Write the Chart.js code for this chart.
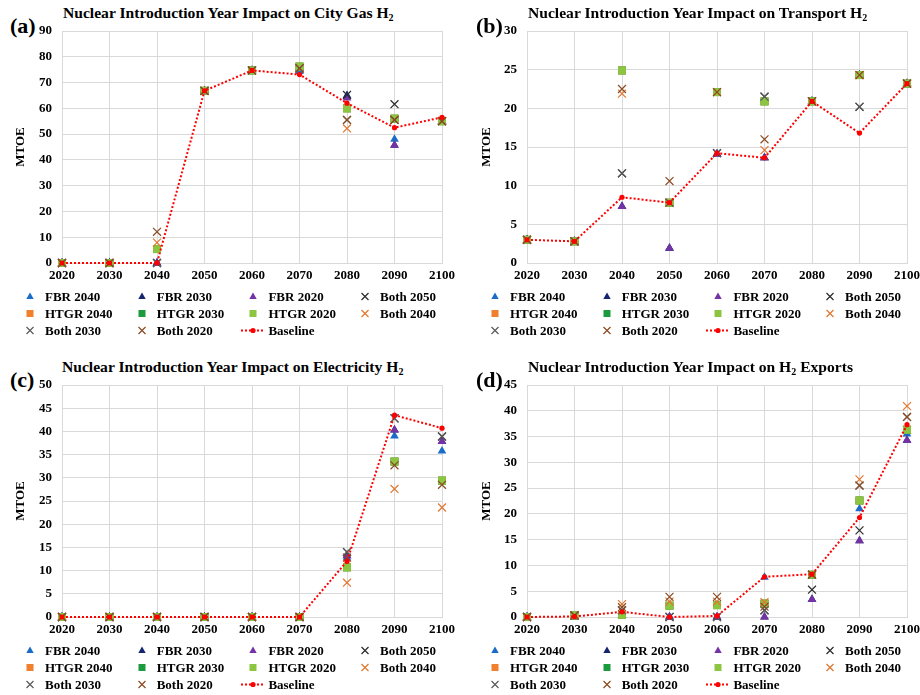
<!DOCTYPE html>
<html lang="en">
<head>
<meta charset="UTF-8">
<title>Nuclear Introduction Year Impact on H2</title>
<script src="https://cdn.jsdelivr.net/npm/chart.js"></script>
<style>
  body { margin: 0; background: #fff; font-family: "Liberation Serif", "Times New Roman", serif; color: #000; }
  .panel { position: absolute; width: 460px; height: 347px; }
  .panel canvas { position: absolute; left: 0; top: 20px; }
  .tag { position: absolute; top: 15px; font-weight: bold; font-size: 22px; line-height: 22px; }
  .title { position: absolute; top: 4px; font-weight: bold; font-size: 15.6px; line-height: 18px; white-space: nowrap; }
  .title sub { font-size: 10px; vertical-align: -3px; line-height: 0; }
  .legend { position: absolute; top: 288px; display: grid; grid-template-columns: repeat(4, 111.7px); grid-auto-rows: 17px; }
  .item { display: flex; align-items: center; font-weight: bold; font-size: 13px; white-space: nowrap; }
  .item svg { width: 20px; height: 17px; margin-right: 5px; overflow: visible; }
</style>
</head>
<body>
  <div class="panel" id="pa" style="left:0;top:0">
    <div class="tag" style="left:10px">(a)</div>
    <div class="title" style="left:63px">Nuclear Introduction Year Impact on City Gas H<sub>2</sub></div>
    <canvas id="chartA" width="460" height="270"></canvas>
    <div class="legend" id="legendA"></div>
  </div>
  <div class="panel" id="pb" style="left:460px;top:0">
    <div class="tag" style="left:16px">(b)</div>
    <div class="title" style="left:68px">Nuclear Introduction Year Impact on Transport H<sub>2</sub></div>
    <canvas id="chartB" width="460" height="270"></canvas>
    <div class="legend" id="legendB"></div>
  </div>
  <div class="panel" id="pc" style="left:0;top:354px">
    <div class="tag" style="left:10px">(c)</div>
    <div class="title" style="left:62px">Nuclear Introduction Year Impact on Electricity H<sub>2</sub></div>
    <canvas id="chartC" width="460" height="270"></canvas>
    <div class="legend" id="legendC"></div>
  </div>
  <div class="panel" id="pd" style="left:460px;top:354px">
    <div class="tag" style="left:16px">(d)</div>
    <div class="title" style="left:68px">Nuclear Introduction Year Impact on H<sub>2</sub> Exports</div>
    <canvas id="chartD" width="460" height="270"></canvas>
    <div class="legend" id="legendD"></div>
  </div>

<script>
const years = ["2020", "2030", "2040", "2050", "2060", "2070", "2080", "2090", "2100"];
const seriesNames = ["FBR 2040", "FBR 2030", "FBR 2020", "Both 2050", "HTGR 2040", "HTGR 2030",
                     "HTGR 2020", "Both 2040", "Both 2030", "Both 2020", "Baseline"];

// MTOE, one row per entry of seriesNames
const cityGas = [
  [0, 0, 0,    66.8, 74.7, 74.3, 64.8, 48.0, 55.0],  // FBR 2040
  [0, 0, 0,    66.8, 74.7, 75.5, 65.0, 45.7, 55.0],  // FBR 2030
  [0, 0, 0,    66.8, 74.7, 75.5, 64.0, 45.7, 55.0],  // FBR 2020
  [0, 0, 0,    66.8, 74.7, 75.5, 65.2, 61.6, 55.0],  // Both 2050
  [0, 0, 5.4,  66.8, 74.7, 76.2, 60.0, 56.0, 55.0],  // HTGR 2040
  [0, 0, 5.4,  66.8, 74.7, 76.2, 60.0, 56.0, 55.0],  // HTGR 2030
  [0, 0, 5.4,  66.8, 74.7, 76.2, 60.0, 56.0, 55.0],  // HTGR 2020
  [0, 0, 7.9,  66.8, 74.7, 75.5, 52.2, 55.5, 55.0],  // Both 2040
  [0, 0, 0,    66.8, 74.7, 75.5, 55.5, 55.5, 55.0],  // Both 2030
  [0, 0, 12.1, 66.8, 74.7, 75.5, 55.5, 55.5, 55.0],  // Both 2020
  [0, 0, 0,    66.8, 74.7, 73.1, 62.0, 52.5, 56.5]   // Baseline
];

const transport = [
  [3.0, 2.8, 7.3,  1.9,  14.1, 13.6, 20.9, 24.3, 23.2],
  [3.0, 2.8, 7.3,  1.9,  14.1, 13.6, 20.9, 24.3, 23.2],
  [3.0, 2.8, 7.3,  1.9,  14.1, 13.6, 20.9, 24.3, 23.2],
  [3.0, 2.8, 11.6, 7.8,  14.2, 21.5, 20.9, 20.2, 23.2],
  [3.0, 2.8, 24.9, 7.8,  22.1, 20.9, 20.9, 24.3, 23.2],
  [3.0, 2.8, 24.9, 7.8,  22.1, 20.9, 20.9, 24.3, 23.2],
  [3.0, 2.8, 24.9, 7.8,  22.1, 20.9, 20.9, 24.3, 23.2],
  [3.0, 2.8, 21.9, 7.8,  22.1, 14.6, 20.9, 24.3, 23.2],
  [3.0, 2.8, 11.6, 7.8,  14.2, 21.5, 20.9, 20.2, 23.2],
  [3.0, 2.8, 22.5, 10.6, 22.1, 16.0, 20.9, 24.3, 23.2],
  [3.0, 2.8, 8.5,  7.8,  14.2, 13.6, 20.9, 16.8, 23.2]
];

const electricity = [
  [0, 0, 0, 0, 0, 0, 12.7, 39.0, 35.8],
  [0, 0, 0, 0, 0, 0, 13.2, 40.3, 37.8],
  [0, 0, 0, 0, 0, 0, 13.2, 40.3, 37.8],
  [0, 0, 0, 0, 0, 0, 14.0, 42.8, 38.9],
  [0, 0, 0, 0, 0, 0, 10.7, 33.5, 29.4],
  [0, 0, 0, 0, 0, 0, 10.7, 33.5, 29.4],
  [0, 0, 0, 0, 0, 0, 10.7, 33.5, 29.4],
  [0, 0, 0, 0, 0, 0, 7.4,  27.6, 23.6],
  [0, 0, 0, 0, 0, 0, 14.0, 42.8, 38.9],
  [0, 0, 0, 0, 0, 0, 12.8, 32.7, 28.5],
  [0, 0, 0, 0, 0, 0, 12.0, 43.5, 40.7]
];

const exportsH2 = [
  [0, 0,   0.3, 0,   0,   7.7, 3.4, 21.0, 35.5],
  [0, 0,   0.3, 0,   0,   0,   3.4, 14.8, 34.3],
  [0, 0,   0.3, 0,   0,   0,   3.4, 14.8, 34.3],
  [0, 0.3, 1.3, 0,   0,   1.3, 5.3, 16.8, 36.3],
  [0, 0.3, 0.4, 2.2, 2.3, 2.6, 8.2, 22.6, 36.3],
  [0, 0.3, 0.4, 2.2, 2.3, 2.6, 8.2, 22.6, 36.3],
  [0, 0.3, 0.4, 2.2, 2.3, 2.6, 8.2, 22.6, 36.3],
  [0, 0.3, 2.5, 3.0, 3.0, 2.9, 8.2, 26.7, 40.9],
  [0, 0.3, 1.3, 0,   0,   1.3, 8.2, 25.5, 38.8],
  [0, 0.3, 1.9, 3.9, 3.9, 2.0, 8.2, 25.5, 38.8],
  [0, 0.1, 1.0, 0,   0.2, 7.8, 8.3, 19.3, 37.3]
];

const colors = ["#1b6cc8", "#16266e", "#7432a4", "#2a2a2a", "#f07f2e", "#1c9a3e",
                "#8cc540", "#e2762f", "#5a5a5a", "#8a4a22", "#ff0000"];
const shapes = ["triangle", "triangle", "triangle", "crossRot", "rect", "rect",
                "rect", "crossRot", "crossRot", "crossRot", "line"];

function makeDatasets(rows) {
  return rows.map((vals, i) => {
    const c = colors[i];
    if (shapes[i] === "line") {
      return {
        label: seriesNames[i], data: vals, order: 0, clip: false,
        borderColor: c, backgroundColor: c, borderWidth: 2, borderDash: [2, 2],
        pointStyle: "circle", pointRadius: 2.6, pointBackgroundColor: c, pointBorderWidth: 0
      };
    }
    const cross = shapes[i] === "crossRot";
    return {
      label: seriesNames[i], data: vals, order: rows.length - i, showLine: false, clip: false,
      borderColor: c, backgroundColor: c, pointStyle: shapes[i],
      pointRadius: shapes[i] === "triangle" ? 5 : 5.6,
      pointBorderWidth: cross ? 1.2 : 0
    };
  });
}

function makeChart(id, rows, yMax, yStep, left, titlePad) {
  const chartRight = left + 380;
  new Chart(document.getElementById(id), {
    type: "line",
    data: { labels: years, datasets: makeDatasets(rows) },
    options: {
      responsive: false, animation: false, devicePixelRatio: 1,
      layout: { padding: { top: 11, right: 460 - chartRight, left: 0, bottom: 0 } },
      plugins: { legend: { display: false }, tooltip: { enabled: false } },
      scales: {
        x: {
          grid: { color: "#d9d9d9", drawTicks: false },
          border: { color: "#d9d9d9" },
          ticks: { color: "#000", padding: 5, maxRotation: 0, autoSkip: false,
                   font: { family: "Liberation Serif", size: 13, weight: "bold" } },
          afterFit: s => { s.height = 27; s.paddingLeft = 0; s.paddingRight = 0; }
        },
        y: {
          min: 0, max: yMax,
          grid: { color: "#d9d9d9", drawTicks: false },
          border: { color: "#d9d9d9" },
          ticks: { stepSize: yStep, color: "#000", padding: 10,
                   font: { family: "Liberation Serif", size: 13, weight: "bold" } },
          title: { display: true, text: "MTOE", color: "#000", padding: { top: titlePad, bottom: 0 },
                   font: { family: "Liberation Serif", size: 13, weight: "bold" } },
          afterFit: s => { s.width = left; s.paddingTop = 0; s.paddingBottom = 0; }
        }
      }
    }
  });
}

function markerSvg(i) {
  const c = colors[i];
  switch (shapes[i]) {
    case "triangle":
      return `<polygon points="10,4.5 13.7,11 6.3,11" fill="${c}"/>`;
    case "rect":
      return `<rect x="6.5" y="5" width="7" height="7" fill="${c}"/>`;
    case "crossRot":
      return `<path d="M6.5,5 L13.5,12 M13.5,5 L6.5,12" stroke="${c}" stroke-width="1.2"/>`;
    default:
      return `<line x1="-2" y1="8.5" x2="22" y2="8.5" stroke="${c}" stroke-width="2" stroke-dasharray="2,2"/>` +
             `<circle cx="10" cy="8.5" r="2.6" fill="${c}"/>`;
  }
}

function makeLegend(id, left) {
  const el = document.getElementById(id);
  el.style.left = (left - 42) + "px";
  el.innerHTML = seriesNames.map((name, i) =>
    `<div class="item"><svg viewBox="0 0 20 17">${markerSvg(i)}</svg>${name}</div>`).join("");
}

makeChart("chartA", cityGas, 90, 10, 62, 13);
makeChart("chartB", transport, 30, 5, 67, 19);
makeChart("chartC", electricity, 50, 5, 62, 13);
makeChart("chartD", exportsH2, 45, 5, 67, 19);
makeLegend("legendA", 62);
makeLegend("legendB", 67);
makeLegend("legendC", 62);
makeLegend("legendD", 67);
</script>
</body>
</html>
